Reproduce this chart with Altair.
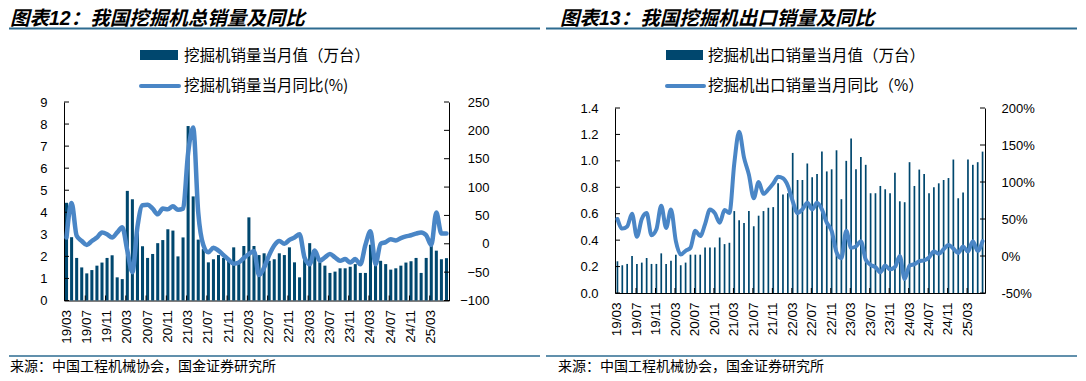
import altair as alt
import pandas as pd

# ---------------- data ----------------
months = []
yy, mm = 2019, 3
for _ in range(76):
    months.append(f"{yy % 100:02d}/{mm:02d}")
    mm += 1
    if mm > 12:
        mm, yy = 1, yy + 1

total_sales = [4.43, 2.87, 1.93, 1.50, 1.23, 1.38, 1.58, 1.72, 1.93, 2.05,
               1.05, 0.97, 4.97, 4.59, 3.24, 2.46, 1.93, 2.11, 2.60, 2.74,
               3.23, 3.17, 2.00, 2.86, 7.91, 4.72, 2.76, 2.33, 1.73, 1.87,
               2.06, 1.93, 1.93, 2.41, 1.65, 2.47, 3.77, 2.47, 2.06, 2.14,
               1.80, 1.87, 2.14, 2.06, 2.41, 1.73, 1.05, 1.90, 2.60, 2.29,
               1.73, 1.58, 1.25, 1.31, 1.46, 1.46, 1.53, 1.65, 1.25, 1.25,
               2.53, 1.80, 1.80, 1.65, 1.40, 1.46, 1.58, 1.72, 1.78, 1.93,
               1.25, 1.93, 2.48, 2.26, 1.87, 1.92]
total_yoy = [11, 72, 14, 5, -2, 5, 11, 20, 17, 11,
             20, 29, -12, -50, 30, 68, 69, 62, 52, 62,
             61, 66, 60, 62, 160, 205, 55, -2, -15, -7,
             -12, -20, -28, -35, -33, -25, -18, -13, -55, -42,
             -20, -3, 5, 0, 7, 11, 17, -25, -36, -12,
             -30, -24, -18, -24, -30, -27, -33, -27, -36, -2,
             22, -36, 0, 3, 8, 6, 10, 13, 15, 18,
             20, 15, -2, 55, 18, 18]
export_sales = [0.24, 0.21, 0.22, 0.28, 0.22, 0.23, 0.265, 0.22, 0.22, 0.30,
                0.22, 0.245, 0.29, 0.21, 0.23, 0.29, 0.29, 0.29, 0.345, 0.345,
                0.345, 0.42, 0.37, 0.38, 0.62, 0.55, 0.53, 0.62, 0.505, 0.585,
                0.62, 0.645, 0.65, 0.83, 0.745, 0.755, 1.06, 0.855, 0.855, 0.98,
                0.876, 0.90, 1.07, 0.92, 0.936, 1.08, 0.71, 1.0, 1.17, 0.936,
                1.03, 0.97, 0.755, 0.755, 0.81, 0.785, 0.755, 0.91, 0.694, 0.687,
                0.99, 0.81, 0.934, 0.90, 0.755, 0.80, 0.83, 0.855, 0.87, 1.01,
                0.717, 0.76, 1.01, 0.97, 0.99, 1.07]
export_yoy = [50, 37, 40, 57, 26, 50, 58, 28, 36, 68,
              38, 63, 20, 2, 7, 11, 34, 27, 43, 63,
              58, 45, 62, 58, 125, 168, 133, 110, 78, 100,
              84, 90, 98, 107, 105, 95, 74, 58, 63, 72,
              63, 72, 63, 45, 34, 5, -3, 34, 11, 13,
              20, -5, -12, -15, -22, -13, -18, -15, 0, -31,
              -13, -11, -7, -6, -2, 6, 3, 9, 15, 10,
              4, 13, 6, 20, 7, 20]

total_left_ticks = [0, 1, 2, 3, 4, 5, 6, 7, 8, 9]
total_right_ticks = [-100, -50, 0, 50, 100, 150, 200, 250]
export_left_ticks = [0.0, 0.2, 0.4, 0.6, 0.8, 1.0, 1.2, 1.4]
export_right_ticks = [-50, 0, 50, 100, 150, 200]
label_months = months[::4]

title_total = "图表12：我国挖掘机总销量及同比"
title_export = "图表13：我国挖掘机出口销量及同比"
legend_total = ["挖掘机销量当月值（万台）", "挖掘机销量当月同比(%)"]
legend_export = ["挖掘机出口销量当月值（万台）", "挖掘机出口销量当月同比（%）"]
source_note = "来源：中国工程机械协会，国金证券研究所"

# ---------------- style ----------------
BAR = "#00476E"
LINE = "#4A86C6"
RULE = "#2D6B90"
CJK = "Noto Sans CJK SC"
TITLE_FONT = "Liberation Sans, Noto Sans CJK SC"
NUM = "Liberation Sans"

one = pd.DataFrame({"k": [0]})


def text(s, x, y, size, weight="normal", style="normal", baseline="middle", font=CJK):
    return alt.Chart(one).mark_text(
        text=s, align="left", baseline=baseline, font=font, fontSize=size,
        fontWeight=weight, fontStyle=style, color="black"
    ).encode(x=alt.value(x), y=alt.value(y))


def hrule(x1, x2, y, color, sw, cap="butt", opacity=1):
    return alt.Chart(one).mark_rule(color=color, strokeWidth=sw, strokeCap=cap,
                                    opacity=opacity).encode(
        x=alt.value(x1), x2=alt.value(x2), y=alt.value(y))


def panel(sales, yoy, w, h, yrange, pi, lw,
          ldom, lvals, lfmt, rdom, rvals, ralign, rpad,
          title, legs, tx, rx1, rx2, sw_x1, sw_x2, leg_tx, src_x):
    df = pd.DataFrame({"m": months, "v": sales, "p": yoy})
    xscale = alt.Scale(domain=months, paddingInner=pi, paddingOuter=pi / 2)
    xaxis = alt.Axis(values=label_months, labelAngle=270, ticks=False, tickSize=0,
                     labelPadding=9, domainColor="black", domainWidth=1, title=None,
                     labelFont=NUM, labelFontSize=13.5, labelColor="black",
                     labelOverlap=False, grid=False)
    lkw = dict(domain=ldom, nice=False, zero=False)
    rkw = dict(domain=rdom, nice=False, zero=False)
    if yrange is not None:
        lkw["range"] = yrange
        rkw["range"] = yrange
    lscale = alt.Scale(**lkw)
    rscale = alt.Scale(**rkw)
    laxis = alt.Axis(values=lvals, format=lfmt, orient="left", ticks=False, tickSize=0,
                     labelPadding=17, domainColor="black", grid=False, title=None,
                     labelFont=NUM, labelFontSize=13, labelColor="black")
    raxis = alt.Axis(values=rvals, labelExpr=ralign[1], orient="right", ticks=False,
                     tickSize=0, labelAlign=ralign[0], labelPadding=rpad,
                     domainColor="black", grid=False, title=None,
                     labelFont=NUM, labelFontSize=13, labelColor="black")

    bars = alt.Chart(df).mark_bar(color=BAR).encode(
        x=alt.X("m:N", scale=xscale, axis=xaxis),
        y=alt.Y("v:Q", scale=lscale, axis=laxis))
    lticks = alt.Chart(pd.DataFrame({"t": lvals})).mark_rule(color="black", strokeWidth=1).encode(
        y=alt.Y("t:Q", scale=lscale, axis=laxis), x=alt.value(0), x2=alt.value(5))
    xt = alt.Chart(pd.DataFrame({"m": label_months[1:]})).mark_rule(color="black", strokeWidth=1).encode(
        x=alt.X("m:N", scale=xscale, axis=xaxis, bandPosition=0),
        y=alt.value(h - 5), y2=alt.value(h))
    line = alt.Chart(df).mark_line(color=LINE, strokeWidth=lw, interpolate="monotone",
                                   strokeCap="round", strokeJoin="round").encode(
        x=alt.X("m:N", scale=xscale, axis=xaxis),
        y=alt.Y("p:Q", scale=rscale, axis=raxis))
    rticks = alt.Chart(pd.DataFrame({"t": rvals})).mark_rule(color="black", strokeWidth=1).encode(
        y=alt.Y("t:Q", scale=rscale, axis=raxis), x=alt.value(w - 5), x2=alt.value(w))

    decor = [
        hrule(rx1, rx1 + 2, -94, "white", 2, opacity=0),
        text(title, tx, -92.5, 19.5, weight="bold", style="italic", baseline="top",
             font=TITLE_FONT),
        hrule(rx1, rx2, -73.5, RULE, 2),
        alt.Chart(one).mark_rect(color=BAR).encode(
            x=alt.value(sw_x1), x2=alt.value(sw_x2), y=alt.value(-52), y2=alt.value(-42)),
        text(legs[0], leg_tx, -46, 15.5),
        hrule(sw_x1 + 1, sw_x2 + 1, -16, LINE, 4, cap="round"),
        text(legs[1], leg_tx, -16, 15.5),
        hrule(rx1, rx2, 254, RULE, 1.5),
        text(source_note, src_x, 265, 14),
    ]
    return alt.layer(
        *decor,
        alt.layer(bars, lticks, xt),
        alt.layer(line, rticks),
    ).resolve_scale(y="independent").properties(width=w, height=h)


p1 = panel(total_sales, total_yoy, 385, 198.5, None, 0.4, 4.5,
           [0, 9], total_left_ticks, "d", [-100, 250], total_right_ticks,
           ("right", "datum.label"), 40,
           title_total, legend_total, -54, -55, 476, 76, 114, 120, -54)
p2 = panel(export_sales, export_yoy, 370, 191, [191, 6], 0.65, 4,
           [0, 1.4], export_left_ticks, ".1f", [-50, 200], export_right_ticks,
           ("left", "datum.value + '%'"), 16,
           title_export, legend_export, -55, -69, 462, 51, 88, 93, -57)

chart = alt.hconcat(p1, p2, spacing=4).properties(
    padding={"left": 0, "top": 0, "right": 0, "bottom": 0},
    background="white",
).configure_view(stroke=None)

chart.save("out.html", embed_options={"renderer": "svg", "actions": False})
